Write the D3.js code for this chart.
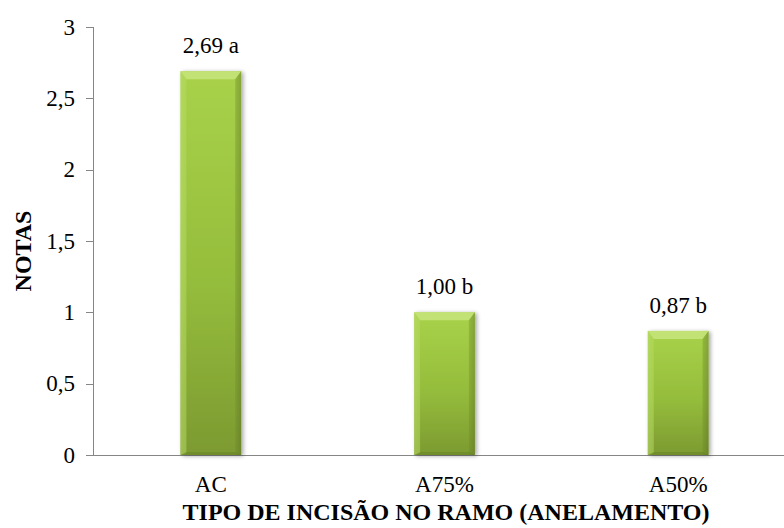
<!DOCTYPE html>
<html><head><meta charset="utf-8">
<script src="https://cdn.jsdelivr.net/npm/d3@7"></script>
<style>body{margin:0;background:#fff}svg{display:block}
text{font-family:"Liberation Serif","Times New Roman","DejaVu Serif",serif;}</style>
</head><body><svg id="c" width="784" height="528"></svg>
<script>
const categories = ["AC", "A75%", "A50%"];
const values = [2.69, 1.00, 0.87];
const valueLabels = ["2,69 a", "1,00 b", "0,87 b"];
const yTicks = [0, 0.5, 1, 1.5, 2, 2.5, 3];
const yTickLabels = ["0", "0,5", "1", "1,5", "2", "2,5", "3"];
const xTitle = "TIPO DE INCISÃO NO RAMO (ANELAMENTO)";
const yTitle = "NOTAS";

const svg = d3.select("#c");
const x = d3.scaleBand().domain(categories).range([94, 795]).paddingInner(0.74).paddingOuter(0.37);
const y = d3.scaleLinear().domain([0, 3]).range([455, 27]);

const defs = svg.append("defs");
const g1 = defs.append("linearGradient").attr("id","vg").attr("x1",0).attr("y1",0).attr("x2",0).attr("y2",1);
g1.append("stop").attr("offset","0%").attr("stop-color","#a9d24a");
g1.append("stop").attr("offset","55%").attr("stop-color","#95bd3c");
g1.append("stop").attr("offset","100%").attr("stop-color","#7c9a31");
const g2 = defs.append("linearGradient").attr("id","hg").attr("x1",0).attr("y1",0).attr("x2",1).attr("y2",0);
g2.append("stop").attr("offset","0%").attr("stop-color","#ffffff").attr("stop-opacity",0.12);
g2.append("stop").attr("offset","10%").attr("stop-color","#ffffff").attr("stop-opacity",0.0);
g2.append("stop").attr("offset","90%").attr("stop-color","#000000").attr("stop-opacity",0.0);
g2.append("stop").attr("offset","100%").attr("stop-color","#000000").attr("stop-opacity",0.15);
const f = defs.append("filter").attr("id","sh").attr("x","-20%").attr("y","-10%").attr("width","140%").attr("height","120%");
f.append("feGaussianBlur").attr("in","SourceAlpha").attr("stdDeviation",2);
f.append("feOffset").attr("dx",2).attr("dy",1).attr("result","b");
f.append("feComponentTransfer").append("feFuncA").attr("type","linear").attr("slope",0.35);
const fm = f.append("feMerge"); fm.append("feMergeNode"); fm.append("feMergeNode").attr("in","SourceGraphic");

// axes
const axis = svg.append("g").attr("stroke","#868686").attr("stroke-width",1).attr("shape-rendering","crispEdges");
axis.append("line").attr("x1",93.5).attr("x2",93.5).attr("y1",y(3)).attr("y2",y(0));
axis.append("line").attr("x1",86).attr("x2",784).attr("y1",y(0)+0.5).attr("y2",y(0)+0.5);
yTicks.forEach(t=>{
  axis.append("line").attr("x1",86).attr("x2",93.5).attr("y1",Math.round(y(t))+0.5).attr("y2",Math.round(y(t))+0.5);
});
svg.append("g").selectAll("text").data(yTicks).join("text")
  .attr("x",75).attr("y",d=>y(d)).attr("dy","0.34em").attr("text-anchor","end")
  .attr("font-size",23).attr("fill","#000")
  .text((d,i)=>yTickLabels[i]);

// bars
const bars = svg.append("g").selectAll("g").data(values).join("g").attr("filter","url(#sh)");
bars.each(function(v,i){
  const gg = d3.select(this);
  const bx = x(categories[i]), bw = x.bandwidth(), by = y(v), bh = y(0)-y(v);
  gg.append("rect").attr("x",bx).attr("y",by).attr("width",bw).attr("height",bh).attr("fill","url(#vg)");
  gg.append("rect").attr("x",bx).attr("y",by).attr("width",bw).attr("height",bh).attr("fill","url(#hg)");
  const b = 6;
  gg.append("path").attr("d",`M${bx},${by}L${bx+bw},${by}L${bx+bw-b},${by+b+2}L${bx+b},${by+b+2}Z`).attr("fill","#c5e37a").attr("opacity",0.9);
  gg.append("path").attr("d",`M${bx},${by}L${bx+b},${by+b+2}L${bx+b},${by+bh-2}L${bx},${by+bh}Z`).attr("fill","#b4d95d").attr("opacity",0.5);
  gg.append("path").attr("d",`M${bx+bw},${by}L${bx+bw-b},${by+b+2}L${bx+bw-b},${by+bh-2}L${bx+bw},${by+bh}Z`).attr("fill","#6f8c2a").attr("opacity",0.35);
  gg.append("path").attr("d",`M${bx},${by+bh}L${bx+b},${by+bh-3}L${bx+bw-b},${by+bh-3}L${bx+bw},${by+bh}Z`).attr("fill","#5f7a22").attr("opacity",0.4);
});

svg.append("g").selectAll("text").data(values).join("text")
  .attr("x",(d,i)=>x(categories[i])+x.bandwidth()/2).attr("y",d=>y(d)-18)
  .attr("text-anchor","middle").attr("font-size",23).attr("fill","#000")
  .text((d,i)=>valueLabels[i]);

svg.append("g").selectAll("text").data(categories).join("text")
  .attr("x",d=>x(d)+x.bandwidth()/2).attr("y",492)
  .attr("text-anchor","middle").attr("font-size",23).attr("fill","#000")
  .text(d=>d);

svg.append("text").attr("x",446).attr("y",520).attr("text-anchor","middle")
  .attr("font-size",24).attr("font-weight","bold").text(xTitle);
svg.append("text").attr("transform","translate(31,251) rotate(-90)").attr("text-anchor","middle")
  .attr("font-size",24).attr("font-weight","bold").text(yTitle);
</script></body></html>
